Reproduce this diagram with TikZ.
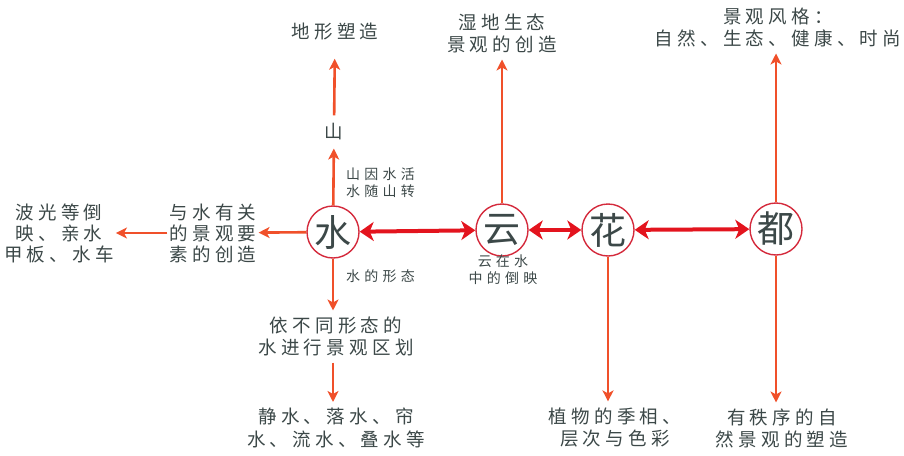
\documentclass[tikz,border=0pt]{standalone}
\usepackage{fontspec}
\setmainfont{Noto Sans CJK SC}
\newfontfamily\spaced[LetterSpace=23]{Noto Sans CJK SC}
\newfontfamily\spacedsmall[LetterSpace=30]{Noto Sans CJK SC}
\usetikzlibrary{arrows.meta}
\definecolor{arr}{HTML}{F0502A}
\definecolor{darr}{HTML}{E3141E}
\definecolor{ring}{HTML}{D42A3C}
\definecolor{txt}{HTML}{3C4848}
\tikzset{
  big/.style={text=txt,font=\spaced\fontsize{18.5}{22.5}\selectfont,align=center,inner xsep=2pt,inner ysep=6pt},
  small/.style={text=txt,font=\spacedsmall\fontsize{14}{17}\selectfont,align=left,inner sep=1pt},
  hub/.style={circle,draw=ring,line width=1.4pt,minimum size=52pt,inner sep=0pt,text=txt,font=\fontsize{37}{37}\selectfont},
  onearrow/.style={draw=arr,line width=2.6pt,-{Stealth[length=11pt,width=11pt,inset=3pt]}},
  twoarrow/.style={draw=darr,line width=4pt,{Stealth[length=14pt,width=19pt,inset=4pt]}-{Stealth[length=14pt,width=19pt,inset=4pt]}},
}
\begin{document}
\begin{tikzpicture}[x=1pt,y=-1pt]
\useasboundingbox (0,0) rectangle (904,455);
% hubs
\node[hub] (shui) at (333,232) {水};
\node[hub] (yun) at (502,230) {云};
\node[hub] (hua) at (608,230) {花};
\node[hub] (du) at (776,229) {都};
% double arrows
\draw[twoarrow] (shui) -- (yun);
\draw[twoarrow] (yun) -- (hua);
\draw[twoarrow] (hua) -- (du);
% water left
\node[big,font=\spaced\fontsize{18.5}{21}\selectfont] (yaosu) at (213,233) {与水有关\\的景观要\\素的创造};
\node[big,font=\spaced\fontsize{18.5}{21}\selectfont] (bo) at (59,233) {波光等倒\\映、亲水\\甲板、水车};
\draw[onearrow] (shui) -- (yaosu);
\draw[onearrow] (yaosu) -- (bo);
% water up
\node[big,inner ysep=8pt] (shan) at (334,132) {山};
\node[big] (dixing) at (335,32) {地形塑造};
\draw[onearrow] (shui) -- (shan);
\draw[onearrow,shorten >=12pt] (shan) -- (dixing);
\node[small,anchor=west] (shanyin) at (345,183) {山因水活\\水随山转};
% water down
\node[small,anchor=west] (xingtai) at (345,276) {水的形态};
\node[big] (qubie) at (336,336.5) {依不同形态的\\水进行景观区划};
\node[big] (jing) at (336,428) {静水、落水、帘\\水、流水、叠水等};
\draw[onearrow] (shui) -- (qubie.north -| shui);
\draw[onearrow] (qubie.south -| shui) -- (jing.north -| shui);
% cloud
\node[big] (shidi) at (502,33.5) {湿地生态\\景观的创造};
\draw[onearrow] (yun) -- (shidi.south -| yun);
\node[small,align=center] (daoying) at (503,270) {云在水\\中的倒映};
% flower
\node[big] (zhiwu) at (615,427.5) {植物的季相、\\层次与色彩};
\draw[onearrow] (hua) -- (zhiwu.north -| hua);
% du
\node[big] (fengge) at (778,27.5) {景观风格：\\自然、生态、健康、时尚};
\draw[onearrow] (du) -- (fengge.south -| du);
\node[big] (zhixu) at (782,428.5) {有秩序的自\\然景观的塑造};
\draw[onearrow] (du) -- (zhixu.north -| du);
\end{tikzpicture}
\end{document}
